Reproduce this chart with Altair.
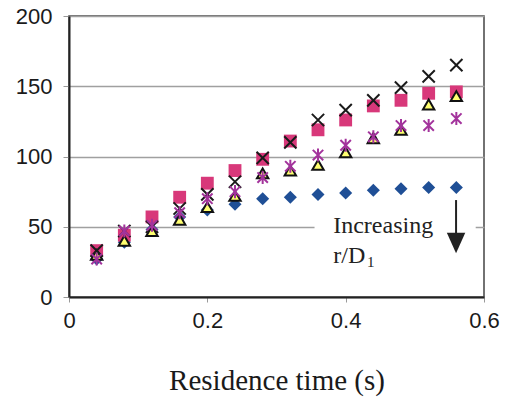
import altair as alt
import pandas as pd

# Residence time (s) for every sampled point
time_s = [0.04, 0.08, 0.12, 0.16, 0.20, 0.24, 0.28, 0.32, 0.36, 0.40, 0.44, 0.48, 0.52, 0.56]

# One series per r/D1 value (higher r/D1 -> lower curve)
diamond_vals = [27, 39, 48, 57, 62, 66, 70, 71, 73, 74, 76, 77, 78, 78]
square_vals = [33, 44, 57, 71, 81, 90, 98, 111, 119, 126, 136, 140, 145, 146]
triangle_vals = [30, 40, 47, 55, 64, 72, 88, 90, 94, 103, 113, 119, 137, 143]
cross_vals = [33, 47, 50, 63, 73, 82, 99, 110, 126, 133, 140, 149, 157, 165]
star_vals = [27, 47, 51, 60, 70, 75, 85, 93, 101, 108, 114, 122, 122, 127]

x_ticks = [0, 0.2, 0.4, 0.6]
y_ticks = [0, 50, 100, 150, 200]

X_PATH = "M-1,-1L1,1M-1,1L1,-1"
STAR_PATH = "M-0.8,-0.8L0.8,0.8M-0.8,0.8L0.8,-0.8M0,-1L0,1"
HEAD_PATH = "M-0.9,-1L0.9,-1L0,1Z"

x_enc = alt.X(
    "t:Q",
    scale=alt.Scale(domain=[0, 0.6], nice=False, zero=False),
    axis=alt.Axis(
        values=x_ticks, format="~g", title="Residence time (s)", grid=False,
        tickSize=5, labelPadding=8, titleY=92, titleBaseline="alphabetic",
        labelFlush=False,
    ),
)
y_enc = alt.Y(
    "v:Q",
    scale=alt.Scale(domain=[0, 200], nice=False),
    axis=alt.Axis(
        values=y_ticks, title=None, grid=True, tickSize=6, labelPadding=11,
        labelFlush=False,
    ),
)


def frame(vals):
    return pd.DataFrame({"t": time_s, "v": vals})


diamonds = alt.Chart(frame(diamond_vals)).mark_point(
    shape="diamond", filled=True, size=170, color="#1F4F96", opacity=1
).encode(x=x_enc, y=y_enc)

squares = alt.Chart(frame(square_vals)).mark_point(
    shape="square", filled=True, size=165, color="#D8387A", opacity=1
).encode(x=x_enc, y=y_enc)

triangles = alt.Chart(frame(triangle_vals)).mark_point(
    shape="triangle-up", filled=True, size=130, fill="#FFFF70",
    stroke="#111111", strokeWidth=2, opacity=1, fillOpacity=1,
).encode(x=x_enc, y=y_enc)

crosses = alt.Chart(frame(cross_vals)).mark_point(
    shape=X_PATH, filled=False, size=150, color="#1A1A1A", strokeWidth=2, opacity=1
).encode(x=x_enc, y=y_enc)

stars = alt.Chart(frame(star_vals)).mark_point(
    shape=STAR_PATH, filled=False, size=170, color="#A3339C", strokeWidth=2, opacity=1
).encode(x=x_enc, y=y_enc)

# White panel behind the annotation
panel = alt.Chart(pd.DataFrame({"t": [0.355], "t2": [0.588], "v": [18], "v2": [63]})).mark_rect(
    color="white"
).encode(x=x_enc, x2="t2:Q", y=y_enc, y2="v2:Q")

label_font = "Liberation Serif"
line1 = alt.Chart(pd.DataFrame({"t": [0.382], "v": [45.8], "txt": ["Increasing"]})).mark_text(
    align="left", baseline="alphabetic", font=label_font, fontSize=24, color="#222222"
).encode(x=x_enc, y=y_enc, text="txt:N")

line2 = alt.Chart(pd.DataFrame({"t": [0.382], "v": [24.5], "txt": ["r/D"]})).mark_text(
    align="left", baseline="alphabetic", font=label_font, fontSize=24, color="#222222"
).encode(x=x_enc, y=y_enc, text="txt:N")

sub1 = alt.Chart(pd.DataFrame({"t": [0.431], "v": [21.5], "txt": ["1"]})).mark_text(
    align="left", baseline="alphabetic", font=label_font, fontSize=15, color="#222222"
).encode(x=x_enc, y=y_enc, text="txt:N")

shaft = alt.Chart(pd.DataFrame({"t": [0.5596], "v": [69], "v2": [44]})).mark_rule(
    color="#222222", strokeWidth=2
).encode(x=x_enc, y=y_enc, y2="v2:Q")

head = alt.Chart(pd.DataFrame({"t": [0.5596], "v": [38.4]})).mark_point(
    shape=HEAD_PATH, filled=True, size=420, color="#222222", opacity=1
).encode(x=x_enc, y=y_enc)

chart = alt.layer(
    panel, diamonds, squares, triangles, crosses, stars, line1, line2, sub1, shaft, head
).properties(
    width=415,
    height=281,
    padding={"left": 69, "top": 16, "right": 24, "bottom": 104},
    autosize=alt.AutoSizeParams(type="none"),
    background="white",
).configure_view(
    stroke="#444444", strokeWidth=1.5
).configure_axis(
    labelFont="Liberation Sans",
    labelFontSize=22,
    labelColor="#1A1A1A",
    titleFont="Liberation Serif",
    titleFontSize=29,
    titleFontWeight="normal",
    titleColor="#1A1A1A",
    domainColor="#222222",
    domainWidth=2,
    tickColor="#999999",
    gridColor="#A0A0A0",
    gridWidth=1.5,
)

chart.save("out.html", embed_options={"renderer": "svg", "actions": False})
